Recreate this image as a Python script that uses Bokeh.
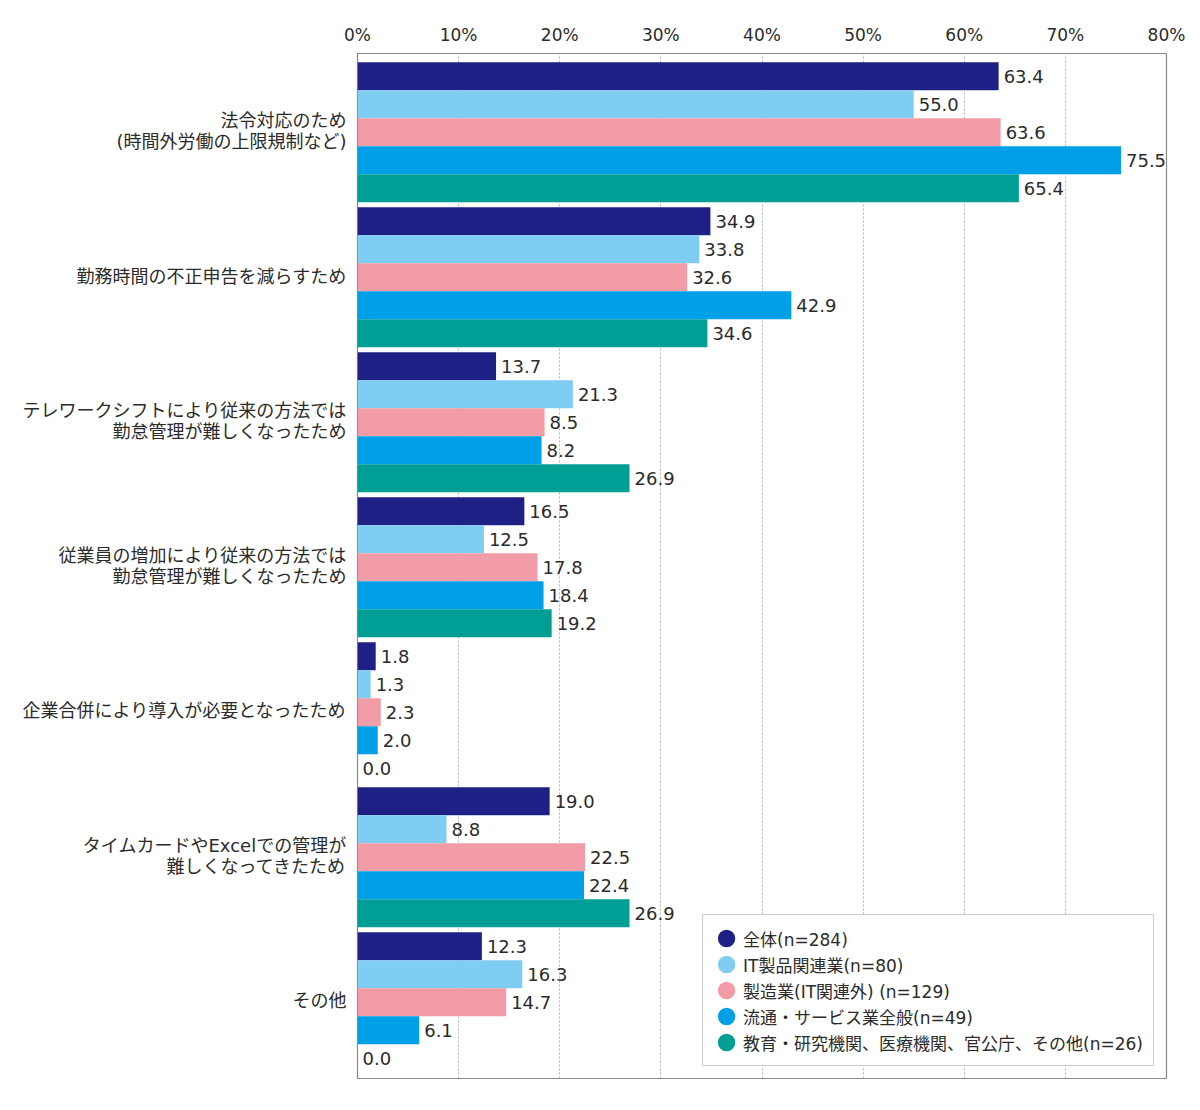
from bokeh.plotting import figure
from bokeh.models import (ColumnDataSource, FactorRange, Range1d, FixedTicker,
                          Legend, LegendItem)
from bokeh.transform import dodge
from bokeh.core.properties import value
from bokeh.embed import file_html
from bokeh.resources import INLINE

FONT = "DejaVu Sans, Noto Sans CJK JP"

categories = [
    "法令対応のため\n(時間外労働の上限規制など)",
    "勤務時間の不正申告を減らすため",
    "テレワークシフトにより従来の方法では\n勤怠管理が難しくなったため",
    "従業員の増加により従来の方法では\n勤怠管理が難しくなったため",
    "企業合併により導入が必要となったため",
    "タイムカードやExcelでの管理が\n難しくなってきたため",
    "その他",
]

series_names = [
    "全体(n=284)",
    "IT製品関連業(n=80)",
    "製造業(IT関連外) (n=129)",
    "流通・サービス業全般(n=49)",
    "教育・研究機関、医療機関、官公庁、その他(n=26)",
]

# bar lengths as drawn
v_all = [63.4, 34.9, 13.7, 16.5, 1.8, 19.0, 12.3]
v_it = [55.0, 33.8, 21.3, 12.5, 1.3, 8.8, 16.3]
v_mfg = [63.6, 32.6, 18.5, 17.8, 2.3, 22.5, 14.7]
v_dist = [75.5, 42.9, 18.2, 18.4, 2.0, 22.4, 6.1]
v_edu = [65.4, 34.6, 26.9, 19.2, 0.0, 26.9, 0.0]

# value labels as printed
l_all = ["63.4", "34.9", "13.7", "16.5", "1.8", "19.0", "12.3"]
l_it = ["55.0", "33.8", "21.3", "12.5", "1.3", "8.8", "16.3"]
l_mfg = ["63.6", "32.6", "8.5", "17.8", "2.3", "22.5", "14.7"]
l_dist = ["75.5", "42.9", "8.2", "18.4", "2.0", "22.4", "6.1"]
l_edu = ["65.4", "34.6", "26.9", "19.2", "0.0", "26.9", "0.0"]

x_ticks = [0, 10, 20, 30, 40, 50, 60, 70, 80]
x_tick_labels = ["0%", "10%", "20%", "30%", "40%", "50%", "60%", "70%", "80%"]

colors = ["#1f2086", "#7fcdf3", "#f19ca6", "#00a0e8", "#009e95"]

values = [v_all, v_it, v_mfg, v_dist, v_edu]
labels = [l_all, l_it, l_mfg, l_dist, l_edu]

BAR_H = 28.0 / 145.0

p = figure(
    width=1192, height=1098,
    y_range=FactorRange(factors=list(reversed(categories)),
                        range_padding=0.0345, range_padding_units="absolute"),
    x_range=Range1d(0, 80),
    x_axis_location="above",
    output_backend="svg", toolbar_location=None,
    min_border_left=357, min_border_right=26, min_border_top=53, min_border_bottom=20,
)
p.background_fill_color = "white"
p.border_fill_color = "white"
p.outline_line_color = "#8a8a8a"
p.outline_line_width = 1.2

legend_items = []
for j in range(5):
    src = ColumnDataSource(dict(cat=categories, val=values[j], lab=labels[j]))
    off = (2 - j) * BAR_H - 0.008
    p.hbar(y=dodge("cat", off, range=p.y_range), right="val", left=0,
           height=BAR_H, source=src, fill_color=colors[j], line_color=None)
    p.text(x="val", y=dodge("cat", off, range=p.y_range), text="lab", source=src,
           x_offset=5, text_align="left", text_baseline="middle",
           text_font=value(FONT), text_font_size="18px", text_color="#2b2b2b")
    # legend marker (kept outside the visible x range)
    dummy = p.scatter(x=[-1000], y=[categories[0]], marker="circle", size=10,
                      fill_color=colors[j], line_color=colors[j], line_width=7)
    legend_items.append(LegendItem(label=series_names[j], renderers=[dummy]))

legend = Legend(items=legend_items, location="bottom_right")
legend.label_text_font = FONT
legend.label_text_font_size = "17px"
legend.label_text_color = "#2b2b2b"
legend.glyph_width = 26
legend.glyph_height = 26
legend.label_height = 20
legend.label_width = 398
legend.spacing = 0
legend.padding = 10
legend.margin = 12
legend.label_standoff = 4
legend.border_line_color = "#9a9a9a"
legend.border_line_width = 1.5
legend.background_fill_alpha = 1.0
p.add_layout(legend, "center")

p.xaxis.ticker = FixedTicker(ticks=x_ticks)
p.xaxis.major_label_overrides = {t: s for t, s in zip(x_ticks, x_tick_labels)}
p.xaxis.major_label_text_font = FONT
p.xaxis.major_label_text_font_size = "17px"
p.xaxis.major_label_text_color = "#2b2b2b"
p.xaxis.axis_line_color = None
p.xaxis.major_tick_line_color = None
p.xaxis.minor_tick_line_color = None
p.xaxis.major_label_standoff = 3

p.yaxis.major_label_text_font = FONT
p.yaxis.major_label_text_font_size = "18px"
p.yaxis.major_label_text_color = "#2b2b2b"
p.yaxis.major_label_text_line_height = 1.0
p.yaxis.axis_line_color = None
p.yaxis.major_tick_line_color = None
p.yaxis.major_label_standoff = 5
p.yaxis.major_label_text_align = "right"

p.xgrid.grid_line_color = "#b5b5b5"
p.xgrid.grid_line_dash = "2 2"
p.xgrid.grid_line_width = 1
p.ygrid.grid_line_color = None

open("out.html", "w").write(file_html(p, INLINE))
